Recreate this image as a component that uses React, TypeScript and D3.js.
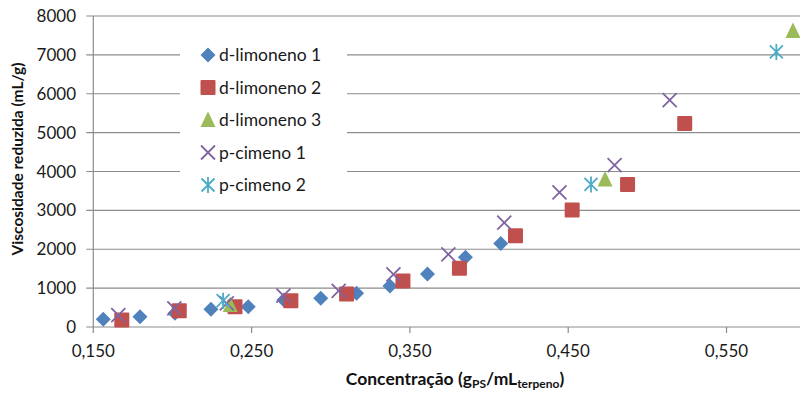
import React from "react";
import * as d3 from "d3";

const dLim1X = [0.1563, 0.1795, 0.2016, 0.2243, 0.2479, 0.2704, 0.2937, 0.3163, 0.3374, 0.3611, 0.3851, 0.4074];
const dLim1Y = [198, 265, 352, 455, 522, 694, 738, 866, 1054, 1362, 1792, 2151];
const dLim2X = [0.168, 0.2043, 0.2395, 0.2748, 0.31, 0.3456, 0.3813, 0.4167, 0.4525, 0.4875, 0.5236];
const dLim2Y = [180, 419, 522, 676, 848, 1183, 1509, 2347, 3008, 3668, 5236];
const dLim3X = [0.2365, 0.4733, 0.592];
const dLim3Y = [565, 3797, 7617];
const pCim1X = [0.1658, 0.2012, 0.2343, 0.2701, 0.305, 0.3396, 0.3743, 0.4096, 0.4445, 0.4793, 0.5141];
const pCim1Y = [308, 480, 609, 805, 930, 1354, 1869, 2682, 3462, 4164, 5835];
const pCim2X = [0.232, 0.4644, 0.5815];
const pCim2Y = [676, 3668, 7077];

const seriesNames = ["d-limoneno 1", "d-limoneno 2", "d-limoneno 3", "p-cimeno 1", "p-cimeno 2"];
const xTicks = [0.15, 0.25, 0.35, 0.45, 0.55];
const yTicks = [0, 1000, 2000, 3000, 4000, 5000, 6000, 7000, 8000];

const colors = ["#4F81BD", "#C0504D", "#9BBB59", "#8064A2", "#4BACC6"];
const shapes = ["diamond", "square", "triangle", "x", "star"];

const FONT = "Lato, 'Open Sans', sans-serif";

function Marker({ shape, color, x, y }: { shape: string; color: string; x: number; y: number }) {
  if (shape === "diamond") {
    const r = 7.5;
    return <path d={`M${x},${y - r}L${x + r},${y}L${x},${y + r}L${x - r},${y}Z`} fill={color} />;
  }
  if (shape === "square") {
    const r = 7.5;
    return <rect x={x - r} y={y - r} width={2 * r} height={2 * r} fill={color} rx={1} />;
  }
  if (shape === "triangle") {
    const w = 7.5;
    return <path d={`M${x},${y - 8.5}L${x + w},${y + 7}L${x - w},${y + 7}Z`} fill={color} />;
  }
  if (shape === "x") {
    const r = 7;
    return (
      <path d={`M${x - r},${y - r}L${x + r},${y + r}M${x + r},${y - r}L${x - r},${y + r}`} stroke={color} strokeWidth={1.8} fill="none" />
    );
  }
  const r = 6.5;
  return (
    <path
      d={`M${x - r},${y - r}L${x + r},${y + r}M${x + r},${y - r}L${x - r},${y + r}M${x},${y - r - 1.5}L${x},${y + r + 1.5}`}
      stroke={color}
      strokeWidth={1.8}
      fill="none"
    />
  );
}

export default function App() {
  const W = 800;
  const H = 395;
  const left = 93.3;
  const top = 16;
  const bottom = 327;
  const x = d3.scaleLinear().domain([0.15, 0.6]).range([left, left + 4.5 * 158.3]);
  const y = d3.scaleLinear().domain([0, 8000]).range([bottom, top]);
  const grid = "#8C8C8C";
  const fmt = (v: number) => v.toFixed(3).replace(".", ",");

  const seriesX = [dLim1X, dLim2X, dLim3X, pCim1X, pCim2X];
  const seriesY = [dLim1Y, dLim2Y, dLim3Y, pCim1Y, pCim2Y];

  const legX = 208;
  const legY0 = 55;
  const legStep = 32.5;

  return (
    <svg width={W} height={H} style={{ position: "absolute", left: 0, top: 0, background: "#fff" }} fontFamily={FONT}>
      <rect width={W} height={H} fill="#fff" />
      {yTicks.map((t) => (
        <line key={"g" + t} x1={left - 7} x2={W} y1={y(t)} y2={y(t)} stroke={grid} strokeWidth={1.2} />
      ))}
      <line x1={left} x2={left} y1={top} y2={bottom} stroke={grid} strokeWidth={1.2} />
      {xTicks.map((t) => (
        <line key={"xt" + t} x1={x(t)} x2={x(t)} y1={bottom} y2={bottom + 6} stroke={grid} strokeWidth={1.2} />
      ))}
      {yTicks.map((t) => (
        <text key={"yl" + t} x={76} y={y(t)} dy="0.36em" textAnchor="end" fontSize={17} fill="#1a1a1a">
          {t}
        </text>
      ))}
      {xTicks.map((t) => (
        <text key={"xl" + t} x={x(t)} y={357} textAnchor="middle" fontSize={17} fill="#1a1a1a">
          {fmt(t)}
        </text>
      ))}
      <text x={455} y={385} textAnchor="middle" fontSize={17.5} fontWeight="bold" fill="#111">
        Concentração (g<tspan fontSize={12} dy={3}>PS</tspan>
        <tspan dy={-3}>/mL</tspan>
        <tspan fontSize={12} dy={3}>terpeno</tspan>
        <tspan dy={-3}>)</tspan>
      </text>
      <text
        transform={`translate(22.5,${159}) rotate(-90)`}
        textAnchor="middle"
        fontSize={15.5}
        fontWeight="bold"
        fill="#111"
      >
        Viscosidade reduzida (mL/g)
      </text>

      <rect x={180} y={37} width={167} height={163} fill="#fff" />
      {seriesNames.map((n, i) => (
        <g key={n}>
          <Marker shape={shapes[i]} color={colors[i]} x={legX} y={legY0 + i * legStep} />
          <text x={219} y={legY0 + i * legStep} dy="0.36em" fontSize={17.5} fill="#1a1a1a">
            {n}
          </text>
        </g>
      ))}

      {seriesX.map((xs, si) => (
        <g key={"s" + si}>
          {xs.map((xv, j) => (
            <Marker key={j} shape={shapes[si]} color={colors[si]} x={x(xv)} y={y(seriesY[si][j])} />
          ))}
        </g>
      ))}
    </svg>
  );
}
